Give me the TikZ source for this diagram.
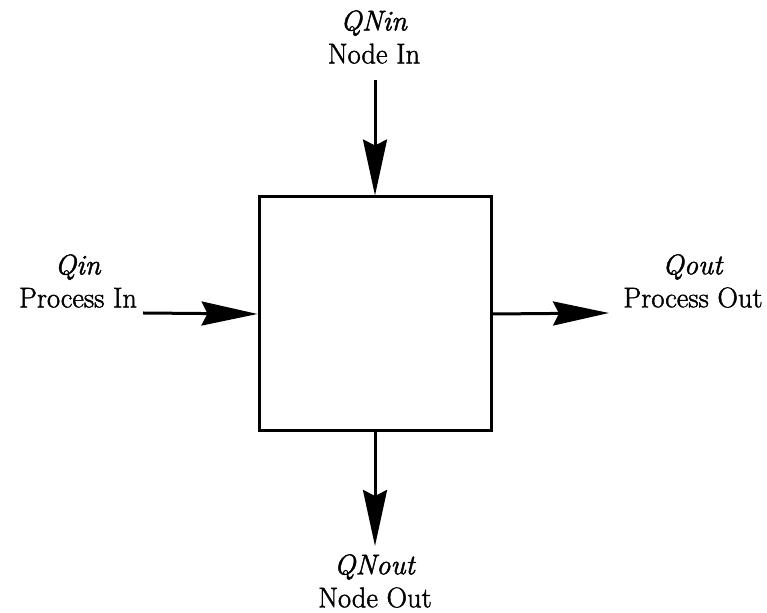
\documentclass[tikz,border=0pt]{standalone}
\usepackage{fontspec}
\setmainfont{Latin Modern Roman}[FakeBold=1.5]
\usetikzlibrary{arrows.meta}
\begin{document}
\begin{tikzpicture}[x=1pt,y=1pt,
  lbl/.style={align=center,inner sep=0pt,font=\rmfamily\fontsize{28.5}{33}\selectfont},
  flow/.style={line width=3pt,-{Stealth[length=56pt,width=24pt,inset=6pt]}},
  blockbox/.style={draw,line width=3pt,minimum width=232pt,minimum height=234pt,inner sep=0pt}]
  \useasboundingbox (0,0) rectangle (767,612);
  % central block
  \node[blockbox] (blk) at (375,298) {};
  % labels
  \node[lbl] (nin)  at (374,575) {\textit{QNin}\\Node In};
  \node[lbl] (pin)  at (78,331)  {\textit{Qin}\\Process In};
  \node[lbl] (pout) at (693,331) {\textit{Qout}\\Process Out};
  \node[lbl] (nout) at (375,31)  {\textit{QNout}\\Node Out};
  % free ends of the connectors
  \coordinate (tin)  at (375,532);
  \coordinate (tpin) at (143,299);
  \coordinate (tpout) at (609,299);
  \coordinate (tnout) at (375,66);
  % connectors
  \draw[flow] (tin) -- (blk.north);
  \draw[flow] (tpin) -- (blk.west);
  \draw[flow] (blk.east) -- (tpout);
  \draw[flow] (blk.south) -- (tnout);
\end{tikzpicture}
\end{document}
